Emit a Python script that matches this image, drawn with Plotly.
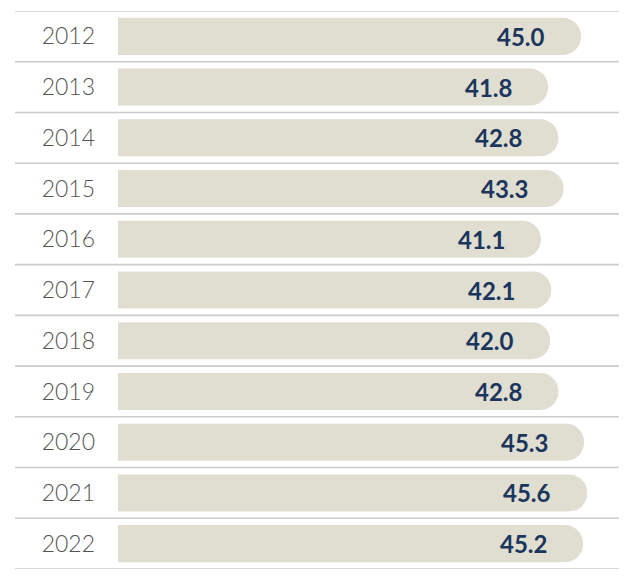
import plotly.graph_objects as go

years = ["2012", "2013", "2014", "2015", "2016", "2017", "2018", "2019", "2020", "2021", "2022"]
values = [45.0, 41.8, 42.8, 43.3, 41.1, 42.1, 42.0, 42.8, 45.3, 45.6, 45.2]

BAR_COLOR = "#e0ddd1"
NAVY = "#1b365d"
GRID = "#cccccc"

fig = go.Figure()
fig.add_trace(go.Bar(
    x=values, y=years, orientation="h",
    marker=dict(color=BAR_COLOR, line=dict(width=0)),
    width=0.73, hoverinfo="skip",
))

for i, v in enumerate(values):
    fig.add_annotation(
        x=v, y=i, xref="x", yref="y", text=f"<b>{v:.1f}</b>", showarrow=False,
        xanchor="right", xshift=-34,
        font=dict(family="Lato", size=24, color=NAVY),
    )

shapes = []
for i in range(len(years) + 1):
    shapes.append(dict(type="line", xref="paper", yref="y",
                       x0=-103 / 509, x1=1.02, y0=i - 0.5, y1=i - 0.5,
                       line=dict(color=GRID, width=1.6)))
fig.update_layout(shapes=shapes)

fig.update_layout(
    width=619, height=562,
    margin=dict(l=110, r=0, t=3, b=1),
    paper_bgcolor="white", plot_bgcolor="white",
    barcornerradius=18,
    showlegend=False,
    xaxis=dict(range=[0, 49.47], visible=False, fixedrange=True),
    yaxis=dict(type="category", categoryorder="array", categoryarray=years,
               autorange=False, range=[10.5, -0.5], showticklabels=True,
               showgrid=False, zeroline=False, showline=False, ticks="",
               ticklabelstandoff=22,
               tickfont=dict(family="Lato", size=23, color="#555555", weight=300)),
)

fig.write_html("out.html", post_script="document.documentElement.style.overflow='hidden';document.body.style.overflow='hidden';")
